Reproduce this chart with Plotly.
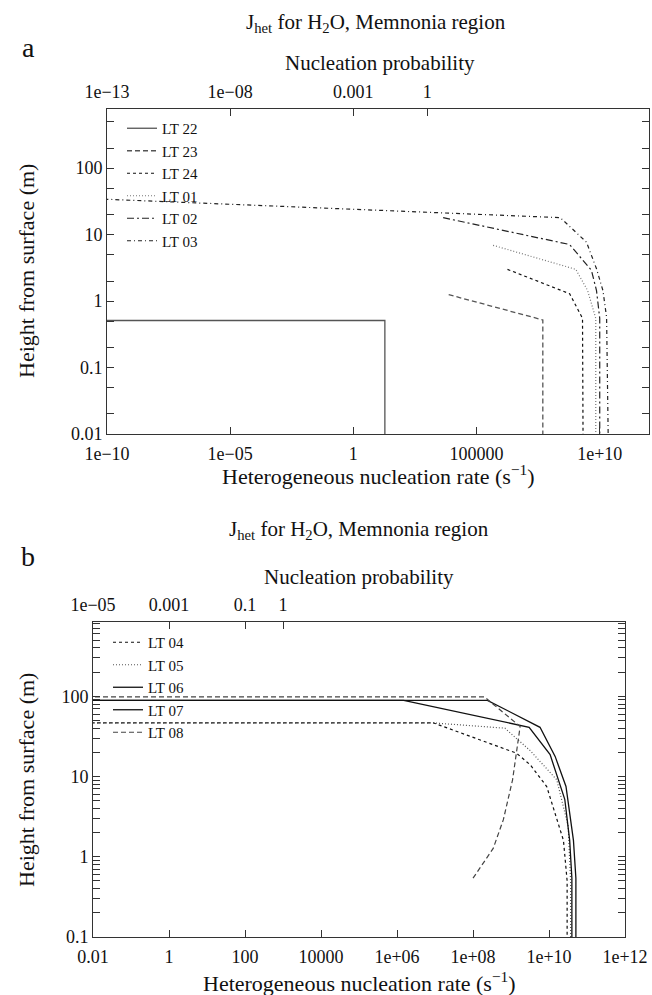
import plotly.graph_objects as go

W, H = 652, 995
FONT = "Liberation Serif, Times New Roman, serif"

# ---------------- Panel a data (J in s^-1, height in m) ----------------
a_names = ["LT 22", "LT 23", "LT 24", "LT 01", "LT 02", "LT 03"]
a_lt22_J = [1e-12, 19, 19]
a_lt22_h = [0.51, 0.51, 0.01]
a_lt23_J = [7.4e3, 4.9e7, 4.9e7]
a_lt23_h = [1.25, 0.52, 0.01]
a_lt24_J = [1.8e6, 6.0e8, 2.0e9, 2.1e9]
a_lt24_h = [3.0, 1.29, 0.55, 0.01]
a_lt01_J = [4.7e5, 1.07e9, 3.2e9, 6.9e9, 6.9e9]
a_lt01_h = [6.9, 3.0, 1.45, 0.55, 0.01]
a_lt02_J = [4.4e3, 6.0e8, 4.6e9, 7.4e9, 1.0e10, 1.0e10]
a_lt02_h = [18.0, 7.1, 2.9, 1.44, 0.55, 0.01]
a_lt03_J = [1e-11, 2.5e8, 2.9e9, 7.4e9, 1.35e10, 1.9e10, 2.2e10]
a_lt03_h = [35.2, 18.0, 7.7, 3.06, 1.44, 0.57, 0.01]

# ---------------- Panel b data ----------------
b_names = ["LT 04", "LT 05", "LT 06", "LT 07", "LT 08"]
b_lt04_J = [1e-3, 9.1e6, 1.4e9, 3.2e9, 8.7e9, 2.4e10, 3.0e10, 3.0e10]
b_lt04_h = [46.5, 46.5, 19.5, 14.0, 7.5, 1.6, 0.5, 0.1]
b_lt05_J = [1e-3, 9.1e6, 6.9e8, 3.2e9, 1.6e10, 3.2e10, 3.7e10, 3.7e10]
b_lt05_h = [46.5, 46.5, 40.0, 21.0, 9.1, 2.4, 0.5, 0.1]
b_lt06_J = [1e-3, 2.4e8, 5.8e9, 1.45e10, 2.8e10, 4.4e10, 5.1e10, 5.1e10]
b_lt06_h = [89, 89, 41, 17.8, 7.5, 1.6, 0.54, 0.1]
b_lt07_J = [1e-3, 1.5e6, 3.0e9, 1.07e10, 2.6e10, 3.5e10, 4.0e10, 4.0e10]
b_lt07_h = [89, 89, 41, 18.7, 5.2, 1.6, 0.54, 0.1]
b_lt08_J = [1e-3, 2.0e8, 1.74e9, 1.1e9, 6.3e8, 3.4e8, 1.0e8]
b_lt08_h = [98, 98, 42, 9.1, 2.9, 1.27, 0.54]

# ---------------- Tick labels ----------------
a_xticks = [1e-10, 1e-5, 1, 1e5, 1e10]
a_xtext = ["1e\u221210", "1e\u221205", "1", "100000", "1e+10"]
a_pticks = [1e-13, 1e-8, 1e-3, 1]
a_ptext = ["1e\u221213", "1e\u221208", "0.001", "1"]
a_yticks = [0.01, 0.1, 1, 10, 100]
a_ytext = ["0.01", "0.1", "1", "10", "100"]

b_xticks = [1e-2, 1, 1e2, 1e4, 1e6, 1e8, 1e10, 1e12]
b_xtext = ["0.01", "1", "100", "10000", "1e+06", "1e+08", "1e+10", "1e+12"]
b_pticks = [1e-5, 1e-3, 0.1, 1]
b_ptext = ["1e\u221205", "0.001", "0.1", "1"]
b_yticks = [0.1, 1, 10, 100]
b_ytext = ["0.1", "1", "10", "100"]

a_series = [
    (a_lt22_J, a_lt22_h, "solid", "#555", 1.3),
    (a_lt23_J, a_lt23_h, "5px,3px", "#555", 1.3),
    (a_lt24_J, a_lt24_h, "3px,3px", "#111", 1.2),
    (a_lt01_J, a_lt01_h, "1px,2px", "#777", 1.2),
    (a_lt02_J, a_lt02_h, "7px,3px,2px,3px", "#222", 1.2),
    (a_lt03_J, a_lt03_h, "4px,3px,1px,3px", "#222", 1.2),
]
b_series = [
    (b_lt04_J, b_lt04_h, "3px,3px", "#111", 1.2),
    (b_lt05_J, b_lt05_h, "1px,2px", "#555", 1.2),
    (b_lt06_J, b_lt06_h, "solid", "#111", 1.3),
    (b_lt07_J, b_lt07_h, "solid", "#111", 1.3),
    (b_lt08_J, b_lt08_h, "5px,3px", "#444", 1.2),
]

fig = go.Figure()
for name, (J, h, dash, col, w) in zip(a_names, a_series):
    fig.add_trace(go.Scatter(x=J, y=h, mode="lines", name=name, xaxis="x", yaxis="y",
                             line=dict(color=col, width=w, dash=dash), legend="legend"))
for name, (J, h, dash, col, w) in zip(b_names, b_series):
    fig.add_trace(go.Scatter(x=J, y=h, mode="lines", name=name, xaxis="x3", yaxis="y3",
                             line=dict(color=col, width=w, dash=dash), legend="legend2"))
# invisible traces so the probability axes are drawn
fig.add_trace(go.Scatter(x=a_pticks, y=[1] * len(a_pticks), xaxis="x2", yaxis="y", mode="markers",
                         marker=dict(opacity=0), showlegend=False, hoverinfo="skip"))
fig.add_trace(go.Scatter(x=b_pticks, y=[1] * len(b_pticks), xaxis="x4", yaxis="y3", mode="markers",
                         marker=dict(opacity=0), showlegend=False, hoverinfo="skip"))

tickfont = dict(family=FONT, size=18, color="#111")
common = dict(type="log", showgrid=False, zeroline=False, ticks="inside", ticklen=7,
              tickcolor="#333", tickfont=tickfont, tickmode="array", automargin=False)

def px(x):
    return x / W

def py(y):
    return 1 - y / H

a_dom_x = [px(107), px(649)]
a_dom_y = [py(434), py(109)]
b_dom_x = [px(93), px(625)]
b_dom_y = [py(937), py(622)]

fig.update_layout(
    template="none",
    width=W, height=H, margin=dict(l=0, r=0, t=0, b=0, pad=0, autoexpand=False),
    paper_bgcolor="white", plot_bgcolor="white",
    font=dict(family=FONT, color="#111"),
    xaxis=dict(common, domain=a_dom_x, anchor="y", range=[-10, 12], tickvals=a_xticks,
               ticktext=a_xtext, showline=True, mirror=True, linecolor="#333", linewidth=1,
               ticklabelstandoff=3),
    xaxis2=dict(common, overlaying="x", side="top", anchor="y", range=[-13, 9],
                tickvals=a_pticks, ticktext=a_ptext, showline=False, ticklabelstandoff=6),
    yaxis=dict(common, domain=a_dom_y, anchor="x", range=[-2, 2.89], tickvals=a_yticks,
               ticktext=a_ytext, showline=True, mirror="allticks", linecolor="#333", linewidth=1,
               minor=dict(ticks="inside", ticklen=4, dtick="D2", tickcolor="#333", showgrid=False)),
    xaxis3=dict(common, domain=b_dom_x, anchor="y3", range=[-2, 12], tickvals=b_xticks,
                ticktext=b_xtext, showline=True, mirror=True, linecolor="#333", linewidth=1,
                ticklabelstandoff=3),
    xaxis4=dict(common, overlaying="x3", side="top", anchor="y3", range=[-5, 9],
                tickvals=b_pticks, ticktext=b_ptext, showline=False, ticklabelstandoff=6),
    yaxis3=dict(common, domain=b_dom_y, anchor="x3", range=[-1, 2.925], tickvals=b_yticks,
                ticktext=b_ytext, showline=True, mirror="allticks", linecolor="#333", linewidth=1,
                minor=dict(ticks="inside", ticklen=4, dtick="D1", tickcolor="#333", showgrid=False)),
    legend=dict(x=px(122), y=py(112), xanchor="left", yanchor="top", bgcolor="rgba(0,0,0,0)",
                font=dict(family=FONT, size=15, color="#111"), tracegroupgap=0),
    legend2=dict(x=px(108), y=py(626), xanchor="left", yanchor="top", bgcolor="rgba(0,0,0,0)",
                 font=dict(family=FONT, size=15, color="#111"), tracegroupgap=0),
    showlegend=True,
)

ann = []
def text(x, y, s, size, angle=0):
    ann.append(dict(x=px(x), y=py(y), xref="paper", yref="paper", text=s, showarrow=False,
                    xanchor="center", yanchor="middle", textangle=angle,
                    font=dict(family=FONT, size=size, color="#111")))

title_txt = "J<sub>het</sub> for H<sub>2</sub>O, Memnonia region"
xlab = "Heterogeneous nucleation rate (s<sup>\u22121</sup>)"
ylab = "Height from surface (m)"
plab = "Nucleation probability"

# panel a
text(28, 48, "a", 28)
text(376, 23, title_txt, 21)
text(380, 63, plab, 21)
text(378, 475, xlab, 22)
text(26, 271, ylab, 22, -90)
# panel b
text(28, 556, "b", 28)
text(359, 530, title_txt, 21)
text(359, 577, plab, 21)
text(359, 982, xlab, 22)
text(26, 780, ylab, 22, -90)

fig.update_layout(annotations=ann)
fig.write_html("out.html", config={"displayModeBar": False},
               post_script="document.body.style.margin='0px';document.body.style.overflow='hidden';")
